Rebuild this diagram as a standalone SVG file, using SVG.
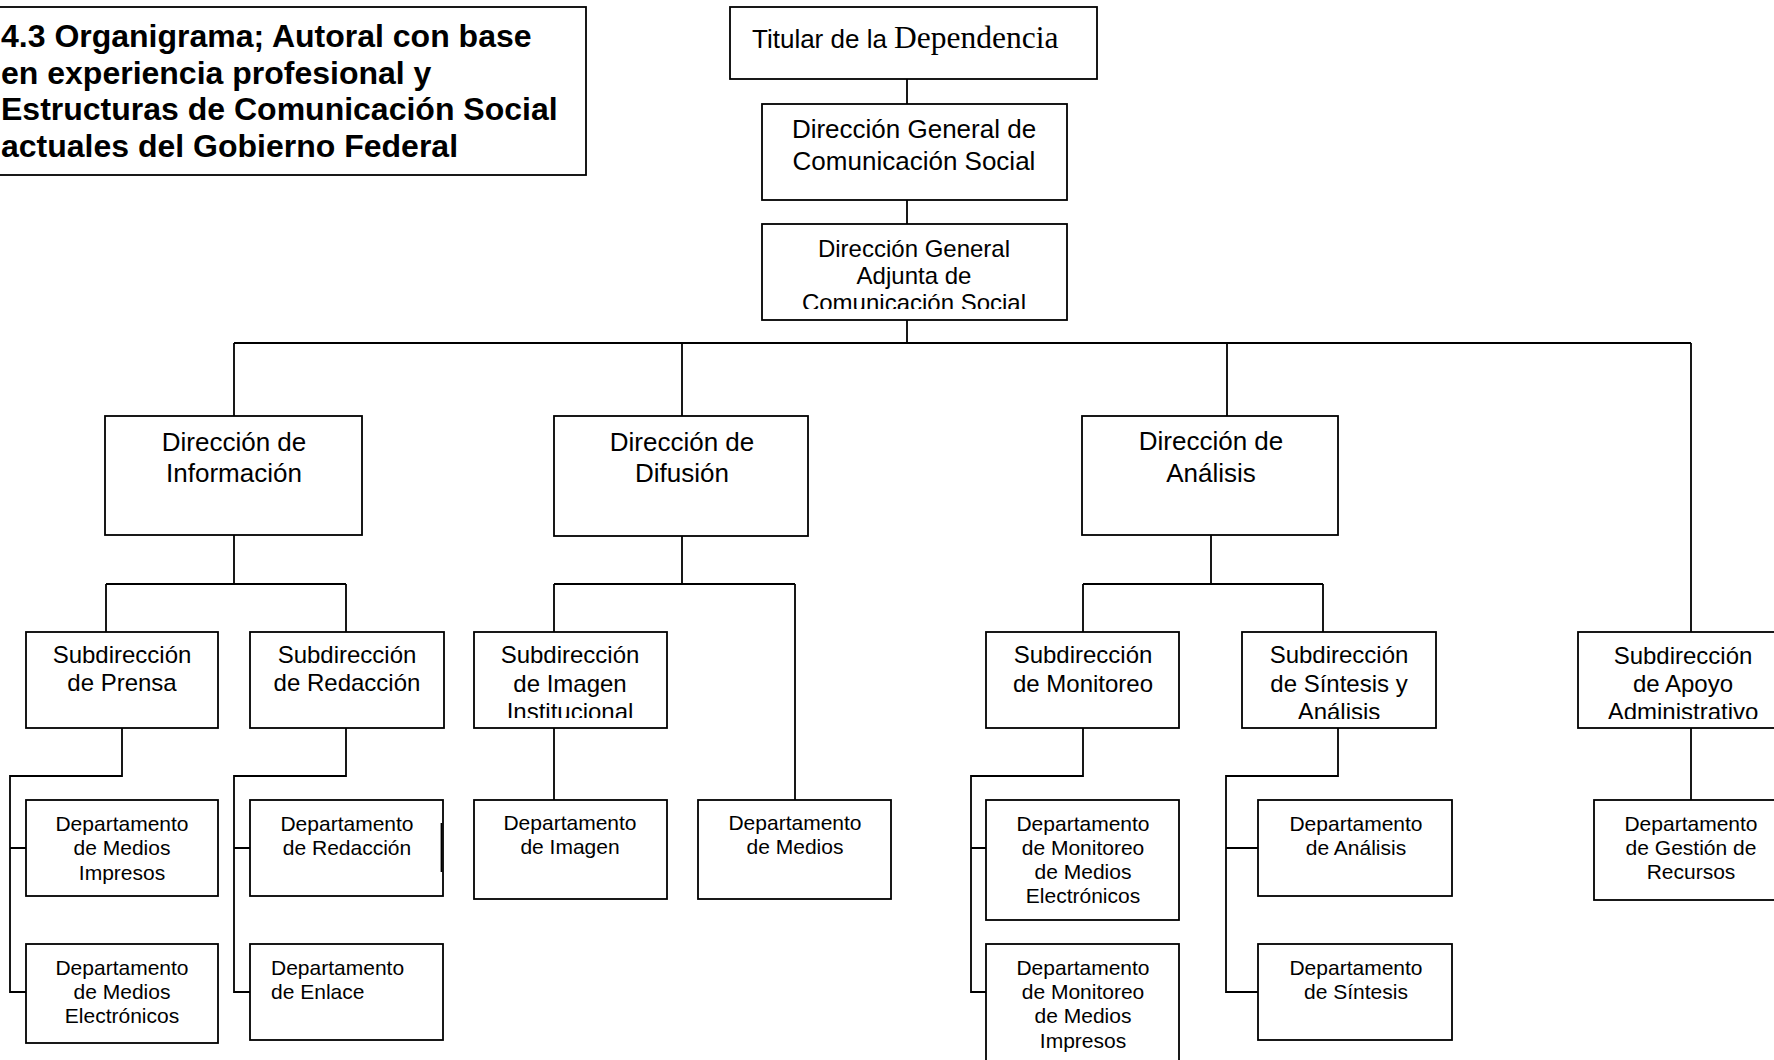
<svg xmlns="http://www.w3.org/2000/svg" width="1774" height="1060" viewBox="0 0 1774 1060">
<style>
.box{fill:#fff;stroke:#000;stroke-width:1.8}
.ln{fill:none;stroke:#000;stroke-width:1.8}
.t{font-family:"Liberation Sans",Arial,sans-serif;fill:#000;text-anchor:middle}
.t26{font-size:26px}
.t24{font-size:24px}
.t21{font-size:21px}
.ttl{font-family:"Liberation Sans",Arial,sans-serif;font-weight:bold;font-size:32px;fill:#000}
</style>
<defs>
<clipPath id="cDGA"><rect x="762" y="224" width="305" height="85"/></clipPath>
<clipPath id="cImg"><rect x="474" y="632" width="193" height="86"/></clipPath>
<clipPath id="cSin"><rect x="1242" y="632" width="194" height="87"/></clipPath>
<clipPath id="cApo"><rect x="1578" y="632" width="210" height="87"/></clipPath>
</defs>
<rect width="1774" height="1060" fill="#fff"/>
<g id="connectors">
<path class="ln" d="M907 79V104M907 200V224M907 320V343M234 343H1691M234 343V416M682 343V416M1227 343V416M1691 343V632"/>
<path class="ln" d="M234 535V584M106 584H346M106 584V632M346 584V632"/>
<path class="ln" d="M122 728V776H10V992H26M10 848H26"/>
<path class="ln" d="M346 728V776H234V992H250M234 848H250"/>
<path class="ln" d="M682 536V584M554 584H795M554 584V632M795 584V800M554 728V800"/>
<path class="ln" d="M1211 535V584M1083 584H1323M1083 584V632M1323 584V632"/>
<path class="ln" d="M1083 728V776H971V992H986M971 848H986"/>
<path class="ln" d="M1338 728V776H1226V992H1258M1226 848H1258"/>
<path class="ln" d="M1691 728V800"/>
</g>
<g id="title">
<rect class="box" x="-5" y="7" width="591" height="168"/>
<text class="ttl" x="1" y="47">4.3 Organigrama; Autoral con base</text>
<text class="ttl" x="1" y="83.5">en experiencia profesional y</text>
<text class="ttl" x="1" y="120">Estructuras de Comunicación Social</text>
<text class="ttl" x="1" y="156.5">actuales del Gobierno Federal</text>
</g>
<g id="titular">
<rect class="box" x="730" y="7" width="367" height="72"/>
<text x="752" y="48" style="font-family:'Liberation Sans',Arial,sans-serif;font-size:26px">Titular de la <tspan style="font-family:'Liberation Serif','Times New Roman',serif;font-size:31.5px">Dependencia</tspan></text>
</g>
<g id="dg">
<rect class="box" x="762" y="104" width="305" height="96"/>
<text class="t t26" x="914" y="138">Dirección General de</text>
<text class="t t26" x="914" y="170">Comunicación Social</text>
</g>
<g id="dga">
<rect class="box" x="762" y="224" width="305" height="96"/>
<g clip-path="url(#cDGA)">
<text class="t t24" x="914" y="257">Dirección General</text>
<text class="t t24" x="914" y="284">Adjunta de</text>
<text class="t t24" x="914" y="311">Comunicación Social</text>
</g>
</g>
<g id="d_info">
<rect class="box" x="105" y="416" width="257" height="119"/>
<text class="t t26" x="234" y="451">Dirección de</text>
<text class="t t26" x="234" y="482">Información</text>
</g>
<g id="d_dif">
<rect class="box" x="554" y="416" width="254" height="120"/>
<text class="t t26" x="682" y="451">Dirección de</text>
<text class="t t26" x="682" y="482">Difusión</text>
</g>
<g id="d_ana">
<rect class="box" x="1082" y="416" width="256" height="119"/>
<text class="t t26" x="1211" y="450">Dirección de</text>
<text class="t t26" x="1211" y="482">Análisis</text>
</g>
<g id="s_prensa">
<rect class="box" x="26" y="632" width="192" height="96"/>
<text class="t t24" x="122" y="663">Subdirección</text>
<text class="t t24" x="122" y="691">de Prensa</text>
</g>
<g id="s_red">
<rect class="box" x="250" y="632" width="194" height="96"/>
<text class="t t24" x="347" y="663">Subdirección</text>
<text class="t t24" x="347" y="691">de Redacción</text>
</g>
<g id="s_img">
<rect class="box" x="474" y="632" width="193" height="96"/>
<g clip-path="url(#cImg)">
<text class="t t24" x="570" y="663">Subdirección</text>
<text class="t t24" x="570" y="692">de Imagen</text>
<text class="t t24" x="570" y="720">Institucional</text>
</g>
</g>
<g id="s_mon">
<rect class="box" x="986" y="632" width="193" height="96"/>
<text class="t t24" x="1083" y="663">Subdirección</text>
<text class="t t24" x="1083" y="692">de Monitoreo</text>
</g>
<g id="s_sin">
<rect class="box" x="1242" y="632" width="194" height="96"/>
<g clip-path="url(#cSin)">
<text class="t t24" x="1339" y="663">Subdirección</text>
<text class="t t24" x="1339" y="692">de Síntesis y</text>
<text class="t t24" x="1339" y="720">Análisis</text>
</g>
</g>
<g id="s_apo">
<rect class="box" x="1578" y="632" width="210" height="96"/>
<g clip-path="url(#cApo)">
<text class="t t24" x="1683" y="664">Subdirección</text>
<text class="t t24" x="1683" y="692">de Apoyo</text>
<text class="t t24" x="1683" y="720">Administrativo</text>
</g>
</g>
<g id="dep_mi">
<rect class="box" x="26" y="800" width="192" height="96"/>
<text class="t t21" x="122" y="831">Departamento</text>
<text class="t t21" x="122" y="855">de Medios</text>
<text class="t t21" x="122" y="880">Impresos</text>
</g>
<g id="dep_me">
<rect class="box" x="26" y="944" width="192" height="99"/>
<text class="t t21" x="122" y="975">Departamento</text>
<text class="t t21" x="122" y="999">de Medios</text>
<text class="t t21" x="122" y="1023">Electrónicos</text>
</g>
<g id="dep_red">
<rect class="box" x="250" y="800" width="193" height="96"/>
<path class="ln" d="M441.5 823V872"/>
<text class="t t21" x="347" y="831">Departamento</text>
<text class="t t21" x="347" y="855">de Redacción</text>
</g>
<g id="dep_enl">
<rect class="box" x="250" y="944" width="193" height="96"/>
<text class="t t21" x="271" y="975" style="text-anchor:start">Departamento</text>
<text class="t t21" x="271" y="999" style="text-anchor:start">de Enlace</text>
</g>
<g id="dep_img">
<rect class="box" x="474" y="800" width="193" height="99"/>
<text class="t t21" x="570" y="830">Departamento</text>
<text class="t t21" x="570" y="854">de Imagen</text>
</g>
<g id="dep_med">
<rect class="box" x="698" y="800" width="193" height="99"/>
<text class="t t21" x="795" y="830">Departamento</text>
<text class="t t21" x="795" y="854">de Medios</text>
</g>
<g id="dep_mon_e">
<rect class="box" x="986" y="800" width="193" height="120"/>
<text class="t t21" x="1083" y="831">Departamento</text>
<text class="t t21" x="1083" y="855">de Monitoreo</text>
<text class="t t21" x="1083" y="879">de Medios</text>
<text class="t t21" x="1083" y="903">Electrónicos</text>
</g>
<g id="dep_mon_i">
<rect class="box" x="986" y="944" width="193" height="130"/>
<text class="t t21" x="1083" y="975">Departamento</text>
<text class="t t21" x="1083" y="999">de Monitoreo</text>
<text class="t t21" x="1083" y="1023">de Medios</text>
<text class="t t21" x="1083" y="1048">Impresos</text>
</g>
<g id="dep_ana">
<rect class="box" x="1258" y="800" width="194" height="96"/>
<text class="t t21" x="1356" y="831">Departamento</text>
<text class="t t21" x="1356" y="855">de Análisis</text>
</g>
<g id="dep_sin">
<rect class="box" x="1258" y="944" width="194" height="96"/>
<text class="t t21" x="1356" y="975">Departamento</text>
<text class="t t21" x="1356" y="999">de Síntesis</text>
</g>
<g id="dep_ges">
<rect class="box" x="1594" y="800" width="194" height="100"/>
<text class="t t21" x="1691" y="831">Departamento</text>
<text class="t t21" x="1691" y="855">de Gestión de</text>
<text class="t t21" x="1691" y="879">Recursos</text>
</g>
</svg>
